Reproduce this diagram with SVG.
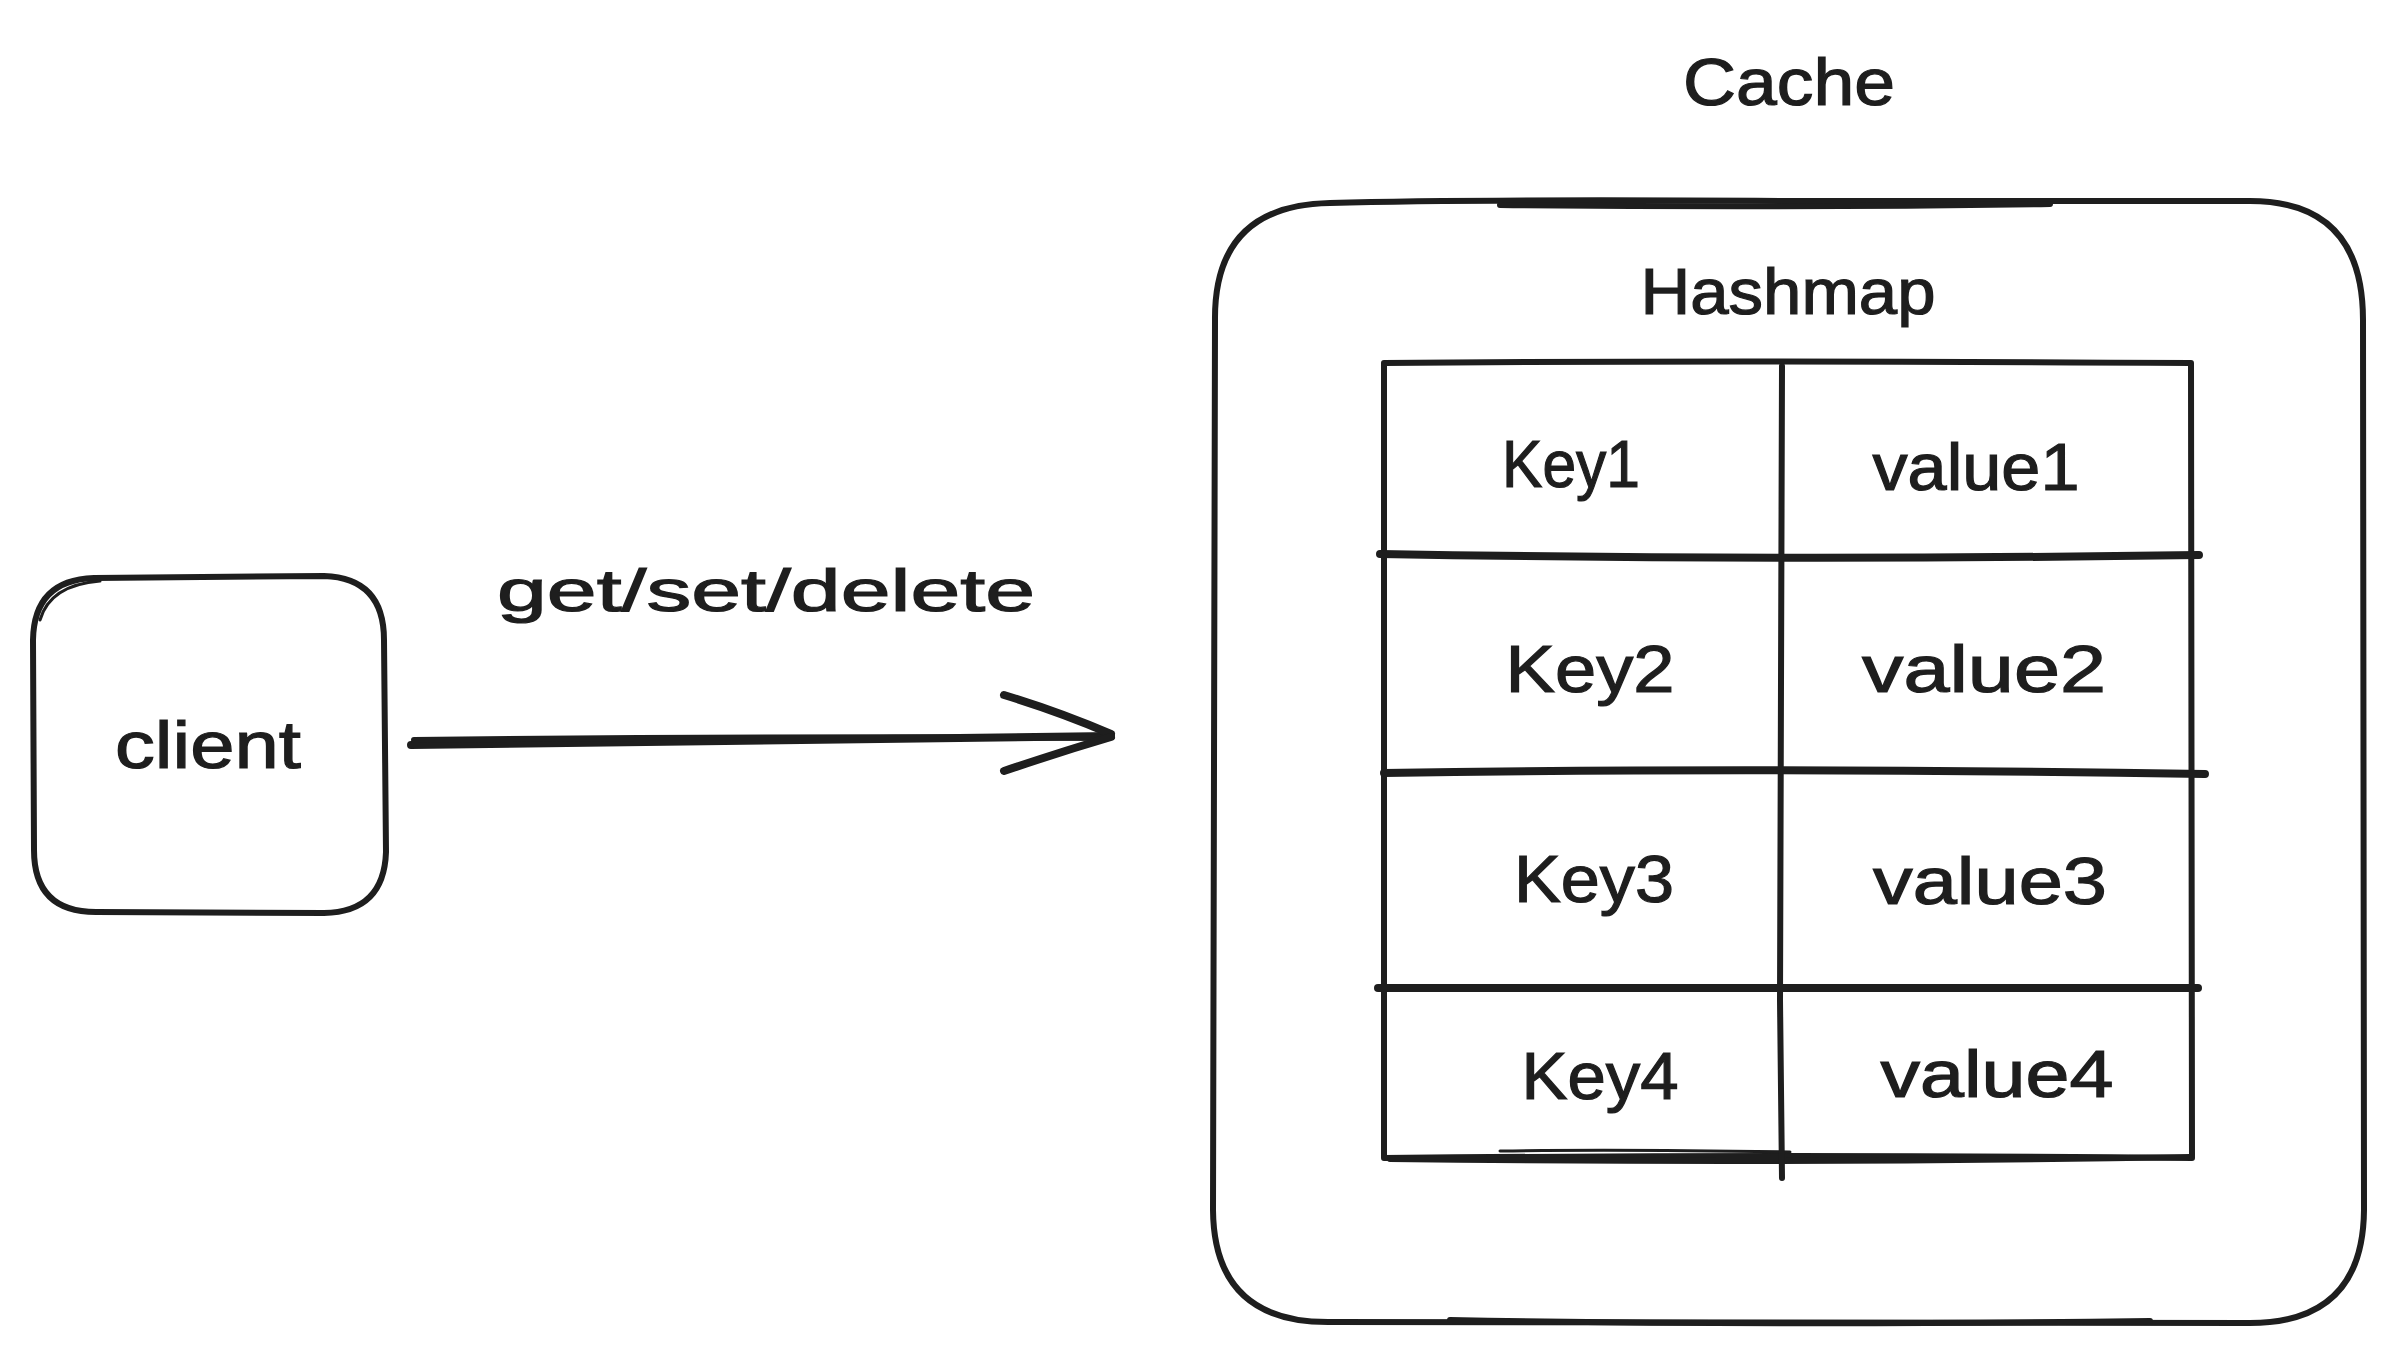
<svg xmlns="http://www.w3.org/2000/svg" width="2400" height="1360" viewBox="0 0 2400 1360">
  <style>
    .shape { fill: none; stroke: #1e1e1e; stroke-width: 6; stroke-linecap: round; stroke-linejoin: round; }
    .thin { fill: none; stroke: #1e1e1e; stroke-width: 3; stroke-linecap: round; }
    .row { fill: none; stroke: #1e1e1e; stroke-width: 8; stroke-linecap: round; }
    .conn { fill: none; stroke: #1e1e1e; stroke-linecap: round; stroke-linejoin: round; }
    .lbl { font-family: "Liberation Sans", Arial, sans-serif; fill: #1e1e1e; stroke: #1e1e1e; stroke-width: 1.2; text-anchor: middle; }
  </style>
  <rect width="2400" height="1360" fill="#ffffff"/>

  <!-- client node -->
  <g id="client">
    <path class="shape" d="M94 578 L324 576 Q384 578 384 640 L386 852 Q384 912 324 913 L96 912 Q34 912 34 850 L33 640 Q34 580 94 578 Z"/>
    <path class="thin" d="M40 620 Q50 585 100 581"/>
    <text class="lbl" x="208" y="768" font-size="66" textLength="186" lengthAdjust="spacingAndGlyphs">client</text>
  </g>

  <!-- cache container -->
  <g id="cache">
    <text class="lbl" x="1789" y="105" font-size="66" textLength="212" lengthAdjust="spacingAndGlyphs">Cache</text>
    <path class="shape" d="M1330 203 Q1480 199 1790 201 L2250 201 Q2363 201 2363 320 L2364 1210 Q2363 1323 2250 1323 L1330 1322 Q1214 1323 1213 1210 L1215 320 Q1214 205 1330 203 Z"/>
    <path class="shape" d="M1500 205 Q1780 208 2050 204"/>
    <path class="shape" d="M1450 1320 Q1780 1326 2150 1321"/>
  </g>

  <!-- hashmap table -->
  <g id="hashmap">
    <text class="lbl" x="1788" y="314" font-size="64" textLength="295" lengthAdjust="spacingAndGlyphs">Hashmap</text>
    <path class="shape" d="M1384 363 Q1700 360 2191 363 L2192 1158 Q1800 1154 1384 1158 Z"/>
    <path class="shape" d="M1390 1159 Q1800 1164 2190 1157"/>
    <path class="thin" d="M1790 1152 Q1620 1149 1500 1151"/>
    <path class="shape" d="M1782 366 L1780 1000 L1782 1178"/>
    <path class="row" d="M1380 554 Q1780 561 2199 555"/>
    <path class="row" d="M1384 773 Q1760 767 2205 774"/>
    <path class="row" d="M1378 988 Q1780 987 2198 988"/>
  </g>

  <g id="row1">
    <text class="lbl" x="1571" y="487" font-size="66" textLength="138" lengthAdjust="spacingAndGlyphs">Key1</text>
    <text class="lbl" x="1976" y="490" font-size="66" textLength="207" lengthAdjust="spacingAndGlyphs">value1</text>
  </g>
  <g id="row2">
    <text class="lbl" x="1590" y="692" font-size="66" textLength="169" lengthAdjust="spacingAndGlyphs">Key2</text>
    <text class="lbl" x="1984" y="692" font-size="66" textLength="244" lengthAdjust="spacingAndGlyphs">value2</text>
  </g>
  <g id="row3">
    <text class="lbl" x="1594" y="902" font-size="66" textLength="160" lengthAdjust="spacingAndGlyphs">Key3</text>
    <text class="lbl" x="1990" y="904" font-size="66" textLength="234" lengthAdjust="spacingAndGlyphs">value3</text>
  </g>
  <g id="row4">
    <text class="lbl" x="1600" y="1099" font-size="66" textLength="157" lengthAdjust="spacingAndGlyphs">Key4</text>
    <text class="lbl" x="1997" y="1097" font-size="66" textLength="233" lengthAdjust="spacingAndGlyphs">value4</text>
  </g>

  <!-- connectors -->
  <g id="connectors">
    <path class="conn" stroke-width="8" d="M411 745 Q760 740 1111 736"/>
    <path class="conn" stroke-width="6" d="M414 740 Q800 736 1108 738"/>
    <path class="conn" stroke-width="8" d="M1004 695 Q1060 712 1111 734"/>
    <path class="conn" stroke-width="8" d="M1004 771 Q1060 752 1111 737"/>
    <text class="lbl" x="766" y="611" font-size="60" textLength="538" lengthAdjust="spacingAndGlyphs">get/set/delete</text>
  </g>
</svg>
